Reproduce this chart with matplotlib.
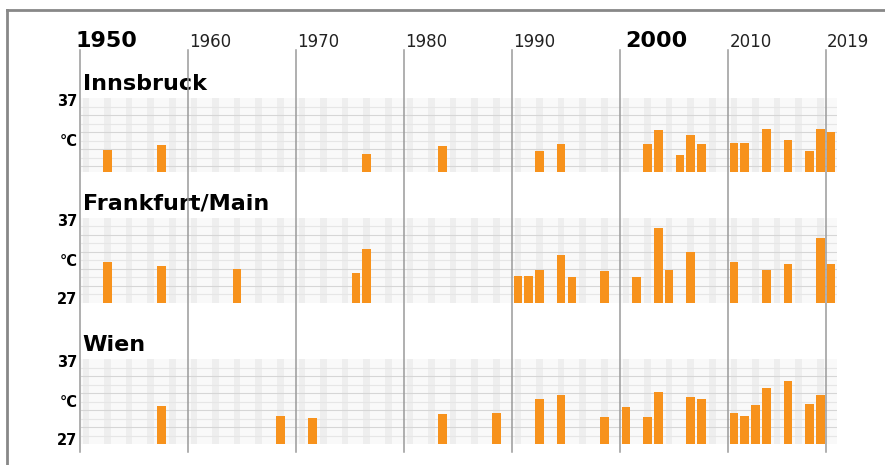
import matplotlib
matplotlib.use("Agg")
import matplotlib.pyplot as plt
import matplotlib.transforms as mtransforms

# annual maximum temperature, only years above the threshold
years_ibk = [1952, 1957, 1976, 1983, 1992, 1994, 2002, 2003, 2005, 2006, 2007,
             2010, 2011, 2013, 2015, 2017, 2018, 2019]
tmax_ibk = [30.9, 31.5, 30.4, 31.4, 30.8, 31.6, 31.6, 33.2, 30.3, 32.6, 31.6,
            31.7, 31.7, 33.4, 32.1, 30.8, 33.3, 33.0]

years_ffm = [1952, 1957, 1964, 1975, 1976, 1990, 1991, 1992, 1994, 1995, 1998,
             2001, 2003, 2004, 2006, 2010, 2013, 2015, 2018, 2019]
tmax_ffm = [31.8, 31.3, 31.0, 30.5, 33.3, 30.1, 30.1, 30.8, 32.6, 30.0, 30.7,
            30.0, 35.8, 30.9, 33.0, 31.8, 30.9, 31.6, 34.6, 31.6]

years_wien = [1957, 1968, 1971, 1983, 1988, 1992, 1994, 1998, 2000, 2002, 2003,
              2006, 2007, 2010, 2011, 2012, 2013, 2015, 2017, 2018]
tmax_wien = [31.5, 30.3, 30.1, 30.5, 30.7, 32.3, 32.8, 30.15, 31.4, 30.2, 33.1,
             32.5, 32.3, 30.7, 30.3, 31.6, 33.65, 34.4, 31.7, 32.8]

stations = ["Innsbruck", "Frankfurt/Main", "Wien"]
year_marks = [1950, 1960, 1970, 1980, 1990, 2000, 2010, 2019]
bold_marks = [1950, 2000]

W, H = 885, 465
fig = plt.figure(figsize=(W / 100, H / 100), dpi=100)

x0, x1 = 80.5, 836.5
# (top pixel, bottom pixel, lower y limit)
panels = [(98, 172, 28.3), (217.7, 302.7, 27), (359.3, 444, 27)]
data = [(years_ibk, tmax_ibk), (years_ffm, tmax_ffm), (years_wien, tmax_wien)]
orange = "#f7921c"

for (top, bot, ymin), (yrs, vals), name in zip(panels, data, stations):
    ax = fig.add_axes([x0 / W, (H - bot) / H, (x1 - x0) / W, (bot - top) / H])
    ax.set_xlim(1950, 2020)
    ax.set_ylim(ymin, 37)
    ax.set_facecolor("#f9f9f9")
    for y in range(1950, 2020, 2):
        ax.axvspan(y + 0.2, y + 0.8, color="#eeeeee", lw=0, zorder=0)
    for t in range(28, 37):
        ax.axhline(t, color="#d6d6d6" if t % 2 else "#e6e6e6", lw=0.8, zorder=1)
    ax.bar([y + 0.5 for y in yrs], [v - ymin for v in vals], bottom=ymin,
           width=0.78, color=orange, zorder=3)
    for s in ax.spines.values():
        s.set_visible(False)
    ax.set_xticks([])
    ax.set_yticks([])
    ax.text(1950.2, 37.5, name, fontsize=16, fontweight="bold", va="bottom",
            ha="left", clip_on=False)
    ax.text(1949.7, 36.6, "37", fontsize=10.5, fontweight="bold", ha="right",
            va="center", clip_on=False)
    ax.text(1949.7, 31.9, "°C", fontsize=10.5, fontweight="bold", ha="right",
            va="center", clip_on=False)
    if ymin <= 27:
        ax.text(1949.7, 27.4, "27", fontsize=10.5, fontweight="bold",
                ha="right", va="center", clip_on=False)

# decade lines across all panels
over = fig.add_axes([x0 / W, (H - 452) / H, (x1 - x0) / W, (452 - 50) / H])
over.set_xlim(1950, 2020)
over.set_ylim(0, 1)
over.patch.set_alpha(0)
over.axis("off")
for y in year_marks:
    over.axvline(y, color="#9a9a9a", lw=1.1, clip_on=False)

trans = mtransforms.blended_transform_factory(over.transData, fig.transFigure)
for y in year_marks:
    if y in bold_marks:
        over.text(y - 0.5 if y == 1950 else y + 0.4, (H - 47) / H, str(y),
                  fontsize=16, fontweight="bold", ha="left", va="baseline",
                  transform=trans)
    else:
        over.text(y + 0.1, (H - 47) / H, str(y), fontsize=12, ha="left",
                  va="baseline", color="#222222", transform=trans)

# frame
fig.add_artist(plt.Line2D([7 / W, 7 / W], [0, (H - 10) / H], color="#888888", lw=2))
fig.add_artist(plt.Line2D([7 / W, 1], [(H - 10) / H, (H - 10) / H], color="#888888", lw=2))

fig.savefig("out.png", dpi=100)
